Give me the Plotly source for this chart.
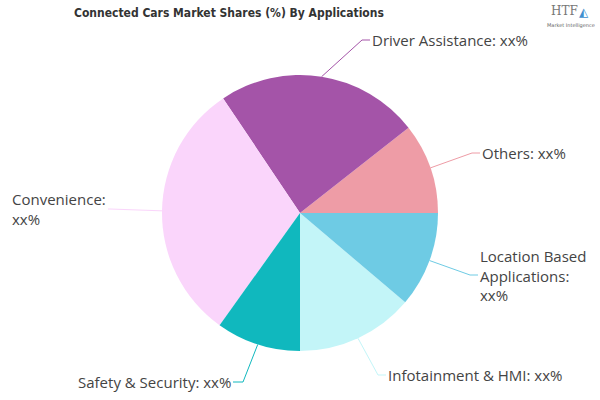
import math
import plotly.graph_objects as go

# ---- data ----
categories = ["Others", "Driver Assistance", "Convenience",
              "Safety & Security", "Infotainment & HMI", "Location Based Applications"]
shares = [10.6, 23.8, 30.7, 9.9, 13.8, 11.2]
label_texts = ["Others: xx%", "Driver Assistance: xx%", "Convenience:<br>xx%",
               "Safety & Security: xx%", "Infotainment & HMI: xx%",
               "Location Based<br>Applications:<br>xx%"]
colors = ["#EE9CA6", "#A454A8", "#FAD5FB", "#10B8BE", "#C3F5F8", "#6ECBE4"]

# ---- layout helpers ----
W, H = 600, 400
CX, CY, R = 300, 213, 138
# label elbow positions (pixels) and side
label_layout = [
    (472, 153, "right"),
    (362, 40, "right"),
    (110, 209, "left"),
    (243, 382, "left"),
    (378, 375, "right"),
    (470, 275, "right"),
]


def px(x):
    return x / W


def py(y):
    return 1 - y / H


total = sum(shares)
# plotly: counterclockwise pies end the first slice at `rotation`; start first slice at 3 o'clock
rotation = 90 - shares[0] / total * 360

fig = go.Figure(go.Pie(
    labels=categories, values=shares, sort=False,
    direction="counterclockwise", rotation=rotation,
    marker=dict(colors=colors, line=dict(width=0)),
    textinfo="none", hoverinfo="label+percent", showlegend=False,
    domain=dict(x=[px(CX - R), px(CX + R)], y=[py(CY + R), py(CY - R)]),
))

cum = 0.0
shapes = []
annotations = []
for cat, val, txt, col, (ex, ey, side) in zip(categories, shares, label_texts, colors, label_layout):
    a0 = cum / total * 360
    cum += val
    a1 = cum / total * 360
    mid = math.radians((a0 + a1) / 2)
    sx = CX + R * math.cos(mid)
    sy = CY - R * math.sin(mid)
    tx = ex + 8 if side == "right" else ex - 10
    if cat == "Convenience":
        tx = ex - 2
    path = f"M {px(sx)} {py(sy)} L {px(ex)} {py(ey)} L {px(tx)} {py(ey)}"
    shapes.append(dict(type="path", xref="paper", yref="paper", path=path,
                       line=dict(color=col, width=1)))
    annotations.append(dict(
        x=px(tx), y=py(ey), xref="paper", yref="paper", text=txt,
        showarrow=False, xanchor="left" if side == "right" else "right",
        yanchor="middle", align="left",
        font=dict(family="Open Sans", size=15, color="#444444")))

# title
annotations.append(dict(
    x=px(229), y=py(13), xref="paper", yref="paper",
    text="<b>Connected Cars Market Shares (%) By Applications</b>",
    showarrow=False, xanchor="center", yanchor="middle",
    font=dict(family="DejaVu Sans Condensed", size=12, color="#333333")))
# logo
annotations.append(dict(
    x=px(564), y=py(11), xref="paper", yref="paper", text="HTF",
    showarrow=False, xanchor="center", yanchor="middle",
    font=dict(family="DejaVu Serif", size=12, color="#777777")))
annotations.append(dict(
    x=px(584), y=py(12), xref="paper", yref="paper", text="◭",
    showarrow=False, xanchor="center", yanchor="middle",
    font=dict(family="DejaVu Sans", size=12, color="#3F8FCF")))
annotations.append(dict(
    x=px(571), y=py(25), xref="paper", yref="paper", text="Market Intelligence",
    showarrow=False, xanchor="center", yanchor="middle",
    font=dict(family="DejaVu Sans", size=5, color="#666666")))

fig.update_layout(
    width=W, height=H, margin=dict(l=0, r=0, t=0, b=0),
    paper_bgcolor="white", plot_bgcolor="white",
    shapes=shapes, annotations=annotations,
)

fig.write_html("out.html", config={"displayModeBar": False},
               post_script="document.body.style.margin='0';")
